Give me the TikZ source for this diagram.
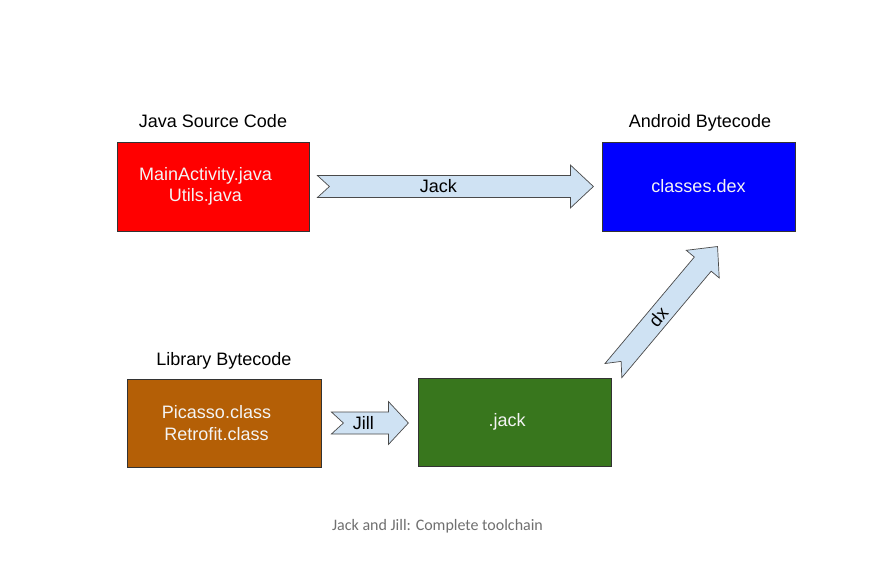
\documentclass[tikz,border=0pt]{standalone}
\usepackage{fontspec}
\setmainfont{Liberation Sans}
\newfontfamily\capfont{Carlito}
\usetikzlibrary{calc}
\definecolor{boxred}{HTML}{FF0000}
\definecolor{boxblue}{HTML}{0000FF}
\definecolor{boxbrown}{HTML}{B45F06}
\definecolor{boxgreen}{HTML}{38761D}
\definecolor{arrowfill}{HTML}{CFE2F3}
\definecolor{arrowline}{HTML}{4A4A4A}
\definecolor{boxline}{HTML}{333333}
\definecolor{boxtext}{HTML}{F4F4F4}
\definecolor{captext}{HTML}{707070}
\newcommand\rpad{\hspace*{15pt}}
\tikzset{
  boxnode/.style={draw=boxline, line width=0.8pt, inner sep=0pt, align=center,
    text=boxtext, font=\fontsize{18}{21.6}\selectfont},
  headnode/.style={anchor=base, inner sep=0pt, text=black, font=\fontsize{18}{21.6}\selectfont},
  fatarrow/.style={draw=arrowline, line width=0.7pt, fill=arrowfill, line join=miter},
  arrlabel/.style={inner sep=0pt, text=black, font=\fontsize{18}{21.6}\selectfont}
}
% #1 start coordinate, #2 angle, #3 length, #4 head length, #5 label position, #6 label
\newcommand\fatarr[6]{%
  \begin{scope}[shift={(#1)}, rotate=#2]
    \draw[fatarrow] (0,11) -- ({#3-#4},11) -- ({#3-#4},21.5) -- (#3,0)
      -- ({#3-#4},-21.5) -- ({#3-#4},-11) -- (0,-11) -- (12,0) -- cycle;
    \node[arrlabel, rotate=#2] at (#5,0) {#6};
  \end{scope}%
}
\begin{document}
\begin{tikzpicture}[x=1pt, y=1pt]
  \useasboundingbox[fill=white] (0,0) rectangle (877,-570);
  % boxes
  \node[boxnode, fill=boxred, minimum width=192pt, minimum height=89pt] (src) at (213,-186.5) {MainActivity.java\rpad\\Utils.java\rpad};
  \node[boxnode, fill=boxblue, minimum width=193pt, minimum height=89pt] (dex) at (698.5,-186.5) {classes.dex};
  \node[boxnode, fill=boxbrown, minimum width=194pt, minimum height=88pt] (lib) at (224,-423) {Picasso.class\rpad\\Retrofit.class\rpad};
  \node[boxnode, fill=boxgreen, minimum width=193pt, minimum height=88pt] (jack) at (514.5,-422) {.jack\rpad};
  % headings
  \node[headnode] (hsrc) at (213,-127) {Java Source Code};
  \node[headnode] (hdex) at (700,-127) {Android Bytecode};
  \node[headnode] (hlib) at (224,-365) {Library Bytecode};
  % arrow anchors
  \coordinate (jackS) at ($(src.east)+(8,0)$);
  \coordinate (jackE) at ($(dex.west)+(-9,0)$);
  \coordinate (jillS) at ($(lib.east)+(10,0)$);
  \coordinate (jillE) at ($(jack.west)+(-10,0)$);
  \coordinate (dxS) at ($(jack.north east)+(2,7)$);
  \coordinate (dxE) at ($(dxS)+(50:162)$);
  % arrows
  \fatarr{jackS}{0}{276}{23}{121}{Jack}
  \fatarr{jillS}{0}{77}{20}{32}{Jill}
  \fatarr{dxS}{50}{162}{23}{70}{dx}
  % caption
  \node[anchor=base, inner sep=0pt, text=captext, font=\capfont\fontsize{16}{19}\selectfont] (cap) at (437.5,-530) {Jack and Jill: Complete toolchain};
\end{tikzpicture}
\end{document}
